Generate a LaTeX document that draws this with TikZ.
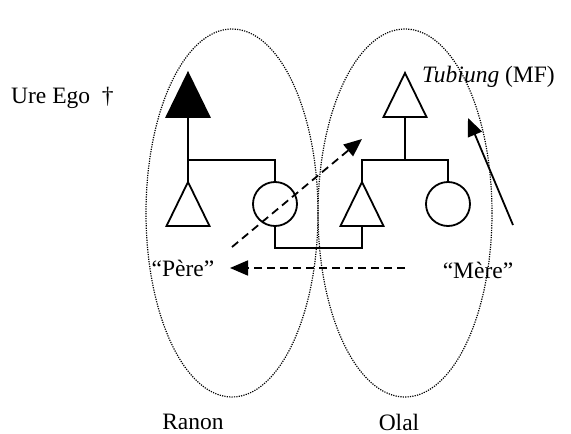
\documentclass[tikz,border=0pt]{standalone}
\usepackage{fontspec}
\setmainfont{Liberation Serif}
\usetikzlibrary{arrows.meta}
\begin{document}
\begin{tikzpicture}[x=1pt,y=-1pt,
 kin/.style={line width=1.8pt},
 fem/.style={draw, circle, minimum size=44pt, inner sep=0pt, line width=1.8pt},
 grp/.style={draw, dash pattern=on 1.2pt off 1.2pt, line width=1.2pt},
 lbl/.style={font=\fontsize{23.5}{25}\selectfont, inner sep=0pt},
 arr/.style={-{Triangle[length=18pt,width=15pt]}, line width=1.8pt},
 dsh/.style={dash pattern=on 8pt off 5pt},
 tri/.pic={\draw[line width=1.8pt, #1] (0,-22) -- (21.5,22) -- (-21.5,22) -- cycle;},
 tri/.default={}]
\useasboundingbox (0,0) rectangle (571,434);
% groups
\draw[grp] (232,213) ellipse [x radius=86, y radius=184];
\draw[grp] (405,213) ellipse [x radius=87, y radius=184];
% triangles
\pic at (188,95) {tri={fill=black}};
\pic at (188,204) {tri};
\pic at (362,204) {tri};
\pic at (405,95) {tri};
\coordinate (ffb) at (188,117);
\coordinate (b1a) at (188,182);
\coordinate (b2a) at (362,182);
\coordinate (b2b) at (362,226);
\coordinate (mfb) at (405,117);
\coordinate (j1) at (188,160);
\coordinate (j2) at (405,160);
% circles
\node[fem] (w1) at (275,204) {};
\node[fem] (w2) at (448,204) {};
% kin lines
\draw[kin] (ffb) -- (b1a);
\draw[kin] (j1) -| (w1.north);
\draw[kin] (w1.south) -- ++(0,21) -| (b2b);
\draw[kin] (mfb) -- (j2);
\draw[kin] (b2a) |- (j2) -| (w2.north);
% labels
\node[lbl, anchor=west] (ure) at (11,98) {Ure Ego\ \ †};
\node[lbl, anchor=west] (tub) at (422,77) {\textit{Tubiung} (MF)};
\node[lbl] (pere) at (183,268) {“Père”};
\node[lbl] (mere) at (478,270) {“Mère”};
\node[lbl] (ranon) at (193,422) {Ranon};
\node[lbl] (olal) at (399,422) {Olal};
% arrows
\coordinate (d1s) at (232,247);
\coordinate (d1e) at (362,139);
\coordinate (d2s) at (405,268);
\coordinate (d2e) at (230,268);
\coordinate (s1s) at (513,225);
\coordinate (s1e) at (468,118);
\draw[arr, dsh] (d1s) -- (d1e);
\draw[arr, dsh] (d2s) -- (d2e);
\draw[arr] (s1s) -- (s1e);
\end{tikzpicture}
\end{document}
